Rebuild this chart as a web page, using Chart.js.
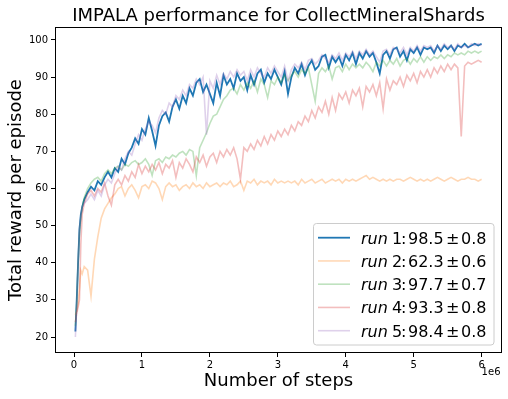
<!DOCTYPE html>
<html><head><meta charset="utf-8">
<script src="https://cdn.jsdelivr.net/npm/chart.js@4.4.0/dist/chart.umd.min.js"></script>
<style>html,body{margin:0;padding:0;background:#fff}#wrap{width:508px;height:399px;position:relative}</style>
</head><body><div id="wrap"><canvas id="c" width="508" height="399"></canvas></div>
<script>
// ---- data (steps in millions) ----
const steps = [0.02,0.04,0.06,0.08,0.10,0.12,0.15,
0.20,0.25,0.30,0.35,0.40,0.45,0.50,0.55,0.60,0.65,0.70,0.75,0.80,0.85,0.90,0.95,1.00,1.05,1.10,1.15,
1.20,1.25,1.30,1.35,1.40,1.45,1.50,1.55,1.60,1.65,1.70,1.75,1.80,1.85,1.90,1.95,2.00,2.05,2.10,2.15,
2.20,2.25,2.30,2.35,2.40,2.45,2.50,2.55,2.60,2.65,2.70,2.75,2.80,2.85,2.90,2.95,3.00,3.05,3.10,3.15,
3.20,3.25,3.30,3.35,3.40,3.45,3.50,3.55,3.60,3.65,3.70,3.75,3.80,3.85,3.90,3.95,4.00,4.05,4.10,4.15,
4.20,4.25,4.30,4.35,4.40,4.45,4.50,4.55,4.60,4.65,4.70,4.75,4.80,4.85,4.90,4.95,5.00,5.05,5.10,5.15,
5.20,5.25,5.30,5.35,5.40,5.45,5.50,5.55,5.60,5.65,5.70,5.75,5.80,5.85,5.90,5.95,6.00];

const run1 = [21.5,30,40,49,53,55,57,
59,60.5,59.5,62,61,63,64.5,63,65.5,64.5,68,66.5,69.5,71,73.5,72,76,74.5,79,75.5,
71.5,77,79.5,80.5,78,82,84,81.5,85,83,87,85,88.5,89.5,86,88,85.5,83,88.5,85,
90.5,88,89.5,87,91,89,90,86.5,90.5,88,91,92,88.5,91,89.5,92,90,88,91.5,85.5,
90,92.5,91,93.5,90.5,93,94.5,92,93,95.5,96,92.5,95.5,94,95.5,93,96,94.5,96.5,93.5,
96.5,95,97,95.5,96.5,94,91,96,97,95,97.5,98,95.5,97,94.5,97.5,96.5,98,96,98,
97.5,98,96.5,98.5,97,98.5,97.5,98.5,97,98.5,98,99,98,98.5,99,98.5,99];

const run2 = [26,27,29,33,38,37,39,
38,31,41,47,52,54.5,56,57.5,58.5,60,60.5,58,60,61,59.5,57.5,60.5,61,60,62,
61.5,60,57,60.5,61.5,60.5,61,59.5,60.5,61,60,61.5,60.5,61,60,61.5,60.5,61,61.5,60.5,
61.5,61,62,60.5,61,62,59.5,62,61.5,62.5,61,62,61.5,62,61,62.5,61.5,62,61.5,62,
61.5,62,61,62.5,61.5,62,62.5,61.5,62,62.5,61.5,62,62.5,62,62.5,61.5,62.5,62,62.5,62,
62.5,63,63.5,62.5,63,62.5,62,62.5,62,62.5,62,62.5,62.5,62,62.5,63,62.5,62,62.5,62,
62.5,62,62.5,63,62.5,62,62.5,63,62.5,62,62.5,62.5,63,62.5,62.5,62,62.5];

const run3 = [23,29,40,48,52,55,57.5,
60,61.5,62.5,63,62,64,65,64,65.5,66,65,66.5,66,67,67.5,66.5,67,68,66.5,63.5,
67.5,68,67,68.5,68,69,68.5,69.5,70,69,70.5,70,63.5,71,73,75,77.5,79.5,80,82,
84,85,86.5,87,85.5,88,86.5,88.5,87,89,86,89.5,88,84.5,89,88,90,88.5,90.5,89,
90.5,91.5,90,92,91,92.5,88,83.5,91,92.5,91.5,93,89.5,92.5,93,91.5,93.5,92,93.5,92.5,
93.5,92.5,94,93,91.5,94,93,94.5,93,94.5,93.5,95,93,94.5,95,93.5,95,94,95.5,94,
95.5,94.5,95.5,95,96,95,96,95.5,96.5,96,96.5,96,97,96.5,97,96.5,97];

const run4 = [24,26.5,28,30,45,53,56,
58.5,59.5,58,60,59,61.5,58,55.5,61,62.5,61,63.5,62,64.5,63,66.5,64,66,64.5,66.5,
65,67,64,66.5,65.5,67.5,63,67,65.5,68,66.5,64.5,68.5,67,69,66,68.5,69.5,67,70,
68.5,70.5,69,71,68,62.5,71,70,72,70.5,73,71.5,74,72,74.5,73,75.5,74,76,74.5,
77,75.5,78,77,79.5,78,81,79,82,80.5,83.5,80,84.5,81,85.5,84,86,83,86.5,85,
87,82,87.5,86,88,85,88.5,81.5,89.5,86.5,89,88,90,87.5,90.5,89,91,88.5,91.5,90,
92,90,92.5,91,93,91.5,93.5,92,93.5,92.5,74,93,94,93.5,94,94.5,94];

const run5 = [20,28,40,49,52.5,55,56,
57,58.5,57,59.5,58,61,62.5,61.5,64,66,65,68,70,69,72,74.5,73,76,78,77,
75,79,81,80,83,82,85,84,86.5,85,88,87,89.5,88,90,74.5,89,87,90.5,88,
91,89.5,91.5,90,92,90.5,91.5,89,92,90,92.5,91,90,92.5,91,93,91.5,90,93,89,
92,93.5,92.5,94,92,94.5,95,93.5,94.5,96,95,94,96,95,96.5,94.5,96.5,95.5,97,95,
97,96,97.5,96,97,95.5,94,97,97.5,96,98,97.5,96.5,98,96,98,97,98.5,97,98.5,
98,98.5,97,98.5,97.5,99,98,98.5,97.5,99,98,98.5,98,99,98.5,99,98.5];

const runNames = ['1','2','3','4','5'];
const runMeans = ['98.5','62.3','97.7','93.3','98.4'];
const runStds = ['0.8','0.6','0.7','0.8','0.8'];
const xTicks = [0,1,2,3,4,5,6];
const yTicks = [20,30,40,50,60,70,80,90,100];
const titleText = 'IMPALA performance for CollectMineralShards';
const xLabel = 'Number of steps';
const yLabel = 'Total reward per episode';
const xOffsetText = '1e6';

// ---- styles ----
const FONT = "'DejaVu Sans', sans-serif";
const colors = ['rgba(31,119,180,1)','rgba(255,127,14,0.3)','rgba(44,160,44,0.3)','rgba(214,39,40,0.3)','rgba(148,103,189,0.3)'];
const widths = [1.8, 1.6, 1.6, 1.6, 1.6];
const series = [run1, run2, run3, run4, run5];

const datasets = series.map((s, k) => ({
  label: 'run ' + runNames[k],
  data: steps.map((x, i) => ({x: x, y: s[i]})),
  borderColor: colors[k],
  backgroundColor: colors[k],
  borderWidth: widths[k],
  pointRadius: 0,
  tension: 0,
  fill: false,
  order: 5 - k
}));

const decor = {
  id: 'decor',
  afterDraw(chart) {
    const ctx = chart.ctx, a = chart.chartArea;
    ctx.save();
    // spines
    ctx.strokeStyle = '#000';
    ctx.lineWidth = 1;
    ctx.strokeRect(Math.round(a.left) + 0.5, Math.round(a.top) + 0.5,
      Math.round(a.right - a.left) - 1, Math.round(a.bottom - a.top) - 1);
    ctx.fillStyle = '#000';
    const cx = (a.left + a.right) / 2, cy = (a.top + a.bottom) / 2;
    // title
    ctx.font = '18px ' + FONT;
    ctx.textAlign = 'center';
    ctx.textBaseline = 'alphabetic';
    ctx.fillText(titleText, cx, 20.7);
    // x label
    ctx.fillText(xLabel, cx, 386);
    // y label
    ctx.save();
    ctx.translate(20.5, cy);
    ctx.rotate(-Math.PI / 2);
    ctx.fillText(yLabel, 0, 0);
    ctx.restore();
    // offset text
    ctx.font = '10px ' + FONT;
    ctx.textAlign = 'right';
    ctx.fillText(xOffsetText, a.right - 1.5, 374.5);
    // legend
    const L = 313.5, T = 223.5, R = 494, B = 345, rad = 3;
    ctx.beginPath();
    ctx.moveTo(L + rad, T);
    ctx.lineTo(R - rad, T); ctx.quadraticCurveTo(R, T, R, T + rad);
    ctx.lineTo(R, B - rad); ctx.quadraticCurveTo(R, B, R - rad, B);
    ctx.lineTo(L + rad, B); ctx.quadraticCurveTo(L, B, L, B - rad);
    ctx.lineTo(L, T + rad); ctx.quadraticCurveTo(L, T, L + rad, T);
    ctx.closePath();
    ctx.fillStyle = 'rgba(255,255,255,0.8)';
    ctx.fill();
    ctx.strokeStyle = '#cccccc';
    ctx.lineWidth = 1;
    ctx.stroke();
    ctx.textAlign = 'left';
    const x0 = 361;
    const offs = [31, 40, 47, 85, 100];
    for (let k = 0; k < 5; k++) {
      const ry = 237.7 + k * 23.25;
      ctx.strokeStyle = colors[k];
      ctx.lineWidth = widths[k];
      ctx.beginPath(); ctx.moveTo(318, ry); ctx.lineTo(350, ry); ctx.stroke();
      ctx.fillStyle = '#000';
      const by = ry + 5.8;
      ctx.font = 'italic 16px ' + FONT;
      ctx.fillText('run', x0, by);
      ctx.font = '16px ' + FONT;
      const parts = [runNames[k], ':', runMeans[k], '\u00b1', runStds[k]];
      parts.forEach((t, j) => ctx.fillText(t, x0 + offs[j], by));
    }
    ctx.restore();
  }
};

new Chart(document.getElementById('c'), {
  type: 'line',
  data: { datasets: datasets },
  options: {
    responsive: false,
    animation: false,
    devicePixelRatio: 1,
    layout: { padding: { left: 0, top: 27, right: 6, bottom: 0 } },
    plugins: { legend: { display: false }, title: { display: false }, tooltip: { enabled: false } },
    scales: {
      x: {
        type: 'linear', min: -0.28, max: 6.30,
        afterBuildTicks: s => { s.ticks = xTicks.map(v => ({ value: v })); },
        afterFit: s => { s.height = 46; },
        grid: { drawOnChartArea: false, drawTicks: true, tickLength: 4, color: '#000', tickWidth: 1 },
        border: { display: false },
        ticks: { font: { family: FONT, size: 10 }, color: '#000', padding: 2, maxRotation: 0, autoSkip: false, callback: v => String(v) }
      },
      y: {
        type: 'linear', min: 15.7, max: 103.5,
        afterBuildTicks: s => { s.ticks = yTicks.map(v => ({ value: v })); },
        afterFit: s => { s.width = 55; },
        grid: { drawOnChartArea: false, drawTicks: true, tickLength: 4, color: '#000', tickWidth: 1 },
        border: { display: false },
        ticks: { font: { family: FONT, size: 10 }, color: '#000', padding: 3, autoSkip: false, callback: v => String(v) }
      }
    }
  },
  plugins: [decor]
});
</script>
</body></html>
